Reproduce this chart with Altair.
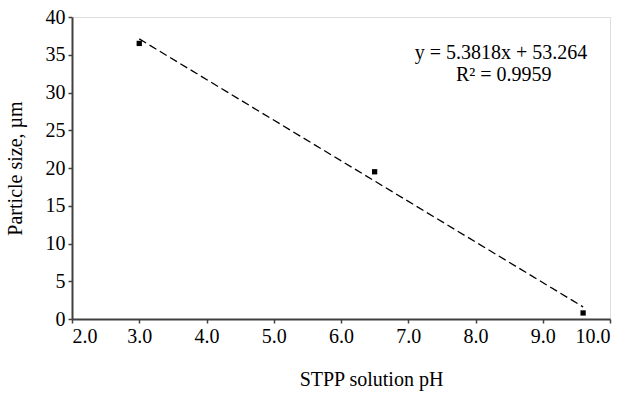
import altair as alt
import pandas as pd

ph = [3.0, 6.5, 9.6]
size = [36.5, 19.5, 0.8]
trend_x = [3.0, 9.6]
trend_y = [37.1, 1.6]
x_ticks = [2, 3, 4, 5, 6, 7, 8, 9, 10]
y_ticks = [0, 5, 10, 15, 20, 25, 30, 35, 40]
eq_lines = ["y = 5.3818x + 53.264", "R\u00b2 = 0.9959"]
eq_x = [8.38, 8.42]
eq_y = [34.5, 31.55]

pts = pd.DataFrame({"ph": ph, "size": size})
trend = pd.DataFrame({"ph": trend_x, "size": trend_y})
eq = pd.DataFrame({"ph": eq_x, "size": eq_y, "t": eq_lines})

FONT = "Times New Roman, Liberation Serif, serif"

xs = alt.Scale(domain=[2, 10], nice=False, zero=False)
ys = alt.Scale(domain=[0, 40], nice=False)

xax = alt.Axis(values=x_ticks, format=".1f", title="STPP solution pH",
               titleX=299, titleY=66, titleBaseline="alphabetic")
yax = alt.Axis(values=y_ticks, format="d", title="Particle size, \u00b5m",
               titleX=-47, titleY=151)

enc_x = alt.X("ph:Q", scale=xs, axis=xax)
enc_y = alt.Y("size:Q", scale=ys, axis=yax)

line = alt.Chart(trend).mark_line(color="black", strokeDash=[8, 4],
                                  strokeWidth=1.3).encode(x=enc_x, y=enc_y)
points = alt.Chart(pts).mark_point(shape="square", filled=True, size=28,
                                   color="black", opacity=1).encode(x=enc_x, y=enc_y)
text = alt.Chart(eq).mark_text(font=FONT, fontSize=20, color="black",
                               align="center", baseline="alphabetic").encode(
    x=enc_x, y=enc_y, text="t:N")

chart = (line + points + text).properties(
    width=538, height=302,
    autosize=alt.AutoSizeParams(type="none"),
    padding={"left": 72, "top": 17, "right": 21, "bottom": 75},
).configure_view(stroke="black", strokeWidth=1).configure(
    background="white", font=FONT
).configure_axis(
    grid=False, tickSize=4, labelPadding=3, domainColor="#404040",
    domainWidth=2, tickColor="#404040", tickWidth=1.5, labelOverlap=False,
    labelFont=FONT, labelFontSize=20, labelColor="black",
    titleFont=FONT, titleFontSize=20, titleFontWeight="normal",
    titleColor="black",
)

chart.save("out.html", embed_options={"renderer": "svg", "actions": False})
